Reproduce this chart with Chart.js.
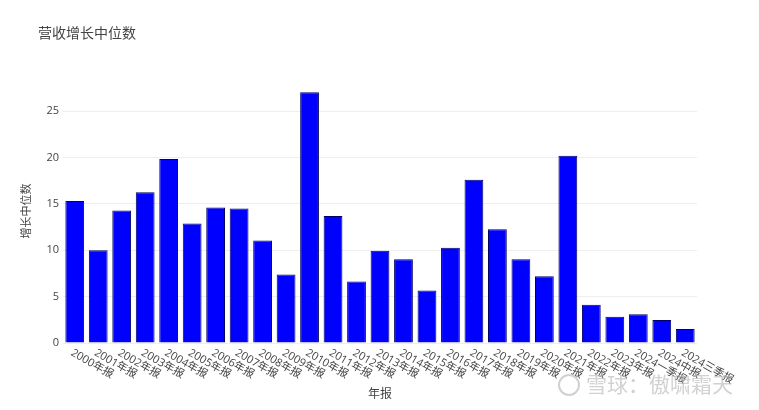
<!DOCTYPE html>
<html>
<head>
<meta charset="utf-8">
<script src="https://cdn.jsdelivr.net/npm/chart.js@4"></script>
<style>
  html, body { margin: 0; padding: 0; background: #fff; }
  #wrap { width: 759px; height: 410px; position: relative; }
</style>
</head>
<body>
<div id="wrap"><canvas id="chart"></canvas></div>
<script>
const categories = [
    "2000年报", "2001年报", "2002年报", "2003年报", "2004年报", "2005年报",
    "2006年报", "2007年报", "2008年报", "2009年报", "2010年报", "2011年报",
    "2012年报", "2013年报", "2014年报", "2015年报", "2016年报", "2017年报",
    "2018年报", "2019年报", "2020年报", "2021年报", "2022年报", "2023年报",
    "2024一季报", "2024中报", "2024三季报"
];
const medianGrowth = [
    15.3, 10.0, 14.3, 16.25, 19.85, 12.9, 14.6, 14.5, 11.05, 7.4,
    27.05, 13.7, 6.64, 9.94, 9.04, 5.67, 10.26, 17.6, 12.27, 9.04,
    7.2, 20.2, 4.12, 2.83, 3.09, 2.48, 1.5
];
const yTicks = [0, 5, 10, 15, 20, 25];

const FONT = "'Open Sans', 'Noto Sans CJK SC', sans-serif";

// plotly-style text: title, axis titles, slanted category labels, watermark
const textPlugin = {
    id: 'plotText',
    afterDraw(chart) {
        const ctx = chart.ctx;
        const x = chart.scales.x;
        const area = chart.chartArea;
        ctx.save();
        ctx.fillStyle = '#444';

        ctx.font = '14px ' + FONT;
        ctx.textAlign = 'left';
        ctx.textBaseline = 'middle';
        ctx.fillText('营收增长中位数', 38, 34);

        ctx.font = '11px ' + FONT;
        categories.forEach((c, i) => {
            ctx.save();
            ctx.translate(x.getPixelForValue(i) - 3, area.bottom + 9);
            ctx.rotate(Math.PI / 6);
            ctx.textAlign = 'left';
            ctx.textBaseline = 'middle';
            ctx.fillText(c, 0, 0);
            ctx.restore();
        });

        ctx.font = '12px ' + FONT;
        ctx.textAlign = 'center';
        ctx.fillText('年报', (area.left + area.right) / 2, 395);

        ctx.save();
        ctx.translate(27, (area.top + area.bottom) / 2);
        ctx.rotate(-Math.PI / 2);
        ctx.font = '11px ' + FONT;
        ctx.fillText('增长中位数', 0, 0);
        ctx.restore();

        // watermark
        ctx.strokeStyle = 'rgba(190,190,190,0.7)';
        ctx.lineWidth = 2;
        ctx.beginPath();
        ctx.arc(569, 385, 10, 0, Math.PI * 2);
        ctx.stroke();
        ctx.fillStyle = 'rgba(190,190,190,0.7)';
        ctx.font = '21px ' + FONT;
        ctx.textAlign = 'left';
        ctx.fillText('雪球：傲啸霜天', 586, 386);
        ctx.restore();
    }
};

new Chart(document.getElementById('chart'), {
    type: 'bar',
    data: {
        labels: categories,
        datasets: [{
            label: '增长中位数',
            data: medianGrowth,
            backgroundColor: '#0000ff',
            borderColor: '#000066',
            borderWidth: 1,
            categoryPercentage: 0.8,
            barPercentage: 1.0
        }]
    },
    options: {
        responsive: true,
        maintainAspectRatio: false,
        animation: false,
        layout: { padding: { left: 0, right: 62, top: 79, bottom: 67 } },
        plugins: { legend: { display: false }, title: { display: false }, tooltip: { enabled: false } },
        scales: {
            x: {
                grid: { display: false },
                border: { display: false },
                ticks: { display: false },
                afterFit(scale) { scale.height = 0; }
            },
            y: {
                min: 0,
                max: 28.47,
                grid: { color: '#eeeeee', drawTicks: false },
                border: { display: false },
                ticks: { color: '#444', font: { size: 11, family: FONT }, padding: 4 },
                afterBuildTicks(scale) { scale.ticks = yTicks.map(v => ({ value: v })); },
                afterFit(scale) { scale.width = 63; }
            }
        }
    },
    plugins: [textPlugin]
});
</script>
</body>
</html>
